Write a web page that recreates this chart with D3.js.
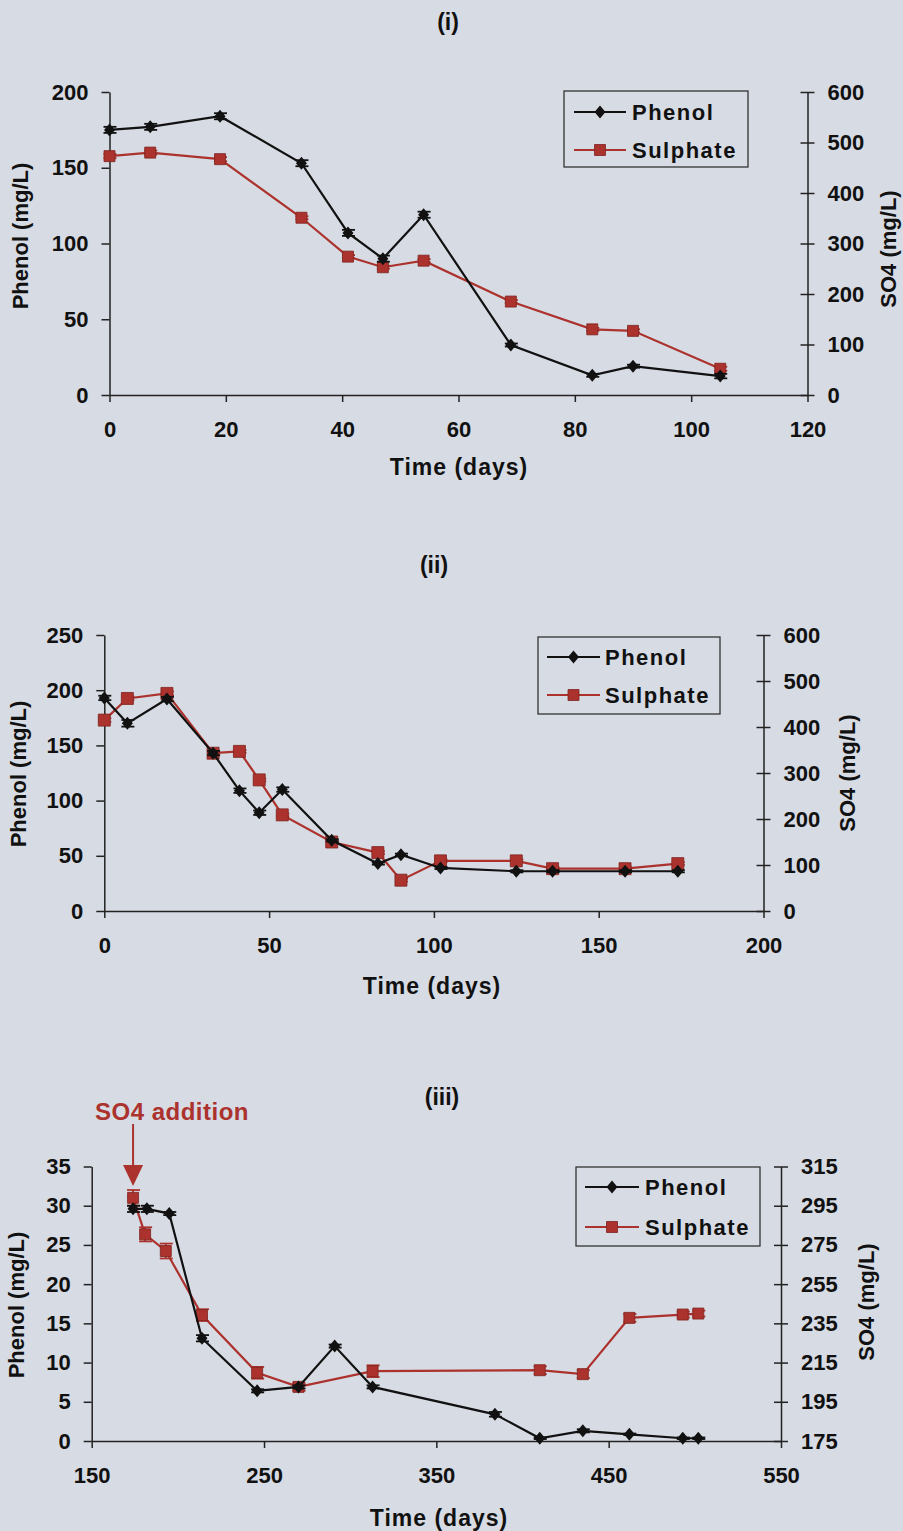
<!DOCTYPE html>
<html>
<head>
<meta charset="utf-8">
<script src="https://cdn.jsdelivr.net/npm/d3@7/dist/d3.min.js"></script>
<style>
body { margin: 0; background: #d7dbe3; }
svg text { font-family: 'Liberation Sans', Arial, sans-serif; font-weight: bold; fill: #111; }
.axis text { font-size: 22px; }
.axis path, .axis line { stroke: #222; stroke-width: 1.5; }
</style>
</head>
<body>
<svg id="chart" width="903" height="1531"></svg>
<script>
// panel (i)
var daysI = [0, 7, 19, 33, 41, 47, 54, 69, 83, 90, 105];
var phenolI = [175, 177, 184, 153, 107, 90, 119, 33, 13, 19, 12.5];
var phenolErrI = [2, 2, 2, 2, 2, 2, 2, 1, 1, 1, 1.5];
var sulphateI = [473, 480, 467, 351, 274, 253, 266, 185, 130, 127, 52];
var sulphateErrI = [4, 4, 4, 3, 3, 3, 3, 3, 3, 3, 4];
var xTicksI = [0, 20, 40, 60, 80, 100, 120];
var phenolTicksI = [0, 50, 100, 150, 200];
var so4TicksI = [0, 100, 200, 300, 400, 500, 600];

// panel (ii)
var daysII = [0, 7, 19, 33, 41, 47, 54, 69, 83, 90, 102, 125, 136, 158, 174];
var phenolII = [193, 170, 192, 143, 109, 89, 110, 64, 43, 51, 39, 36, 36, 36, 36];
var phenolErrII = [2, 3, 2, 2, 2, 2, 2, 1, 1, 1, 1, 1, 1, 1, 1];
var sulphateII = [415, 462, 473, 343, 347, 285, 209, 150, 127, 67, 109, 109, 92, 92, 103];
var sulphateErrII = [4, 4, 4, 3, 3, 3, 3, 3, 3, 3, 3, 3, 3, 3, 3];
var xTicksII = [0, 50, 100, 150, 200];
var phenolTicksII = [0, 50, 100, 150, 200, 250];
var so4TicksII = [0, 100, 200, 300, 400, 500, 600];

// panel (iii)
var phenolDaysIII = [174, 182, 195, 214, 246, 270, 291, 313, 384, 410, 435, 462, 493, 502];
var phenolIII = [29.6, 29.6, 29.0, 13.1, 6.4, 6.9, 12.1, 6.9, 3.4, 0.35, 1.3, 0.85, 0.35, 0.35];
var phenolErrIII = [0.4, 0.4, 0.2, 0.4, 0.2, 0.2, 0.2, 0.2, 0.3, 0.1, 0.2, 0.1, 0.1, 0.1];
var sulphateDaysIII = [174, 181, 193, 214, 246, 270, 313, 410, 435, 462, 493, 502];
var sulphateIII = [299, 280.4, 271.9, 239.2, 209.8, 202.6, 210.6, 211.1, 209.1, 237.8, 239.5, 240];
var sulphateErrIII = [4, 3.6, 3.8, 3, 3, 2, 3, 2, 2, 2, 1.5, 1.5];
var xTicksIII = [150, 250, 350, 450, 550];
var phenolTicksIII = [0, 5, 10, 15, 20, 25, 30, 35];
var so4TicksIII = [175, 195, 215, 235, 255, 275, 295, 315];
var so4AdditionDay = 174;

var phenolColour = '#111111';
var sulphateColour = '#ac322d';

var svg = d3.select('#chart');

function drawSeries(g, x, y, days, vals, errs, colour, marker, msize)
{
	var line = d3.line().x((d, i) => x(days[i])).y(d => y(d));
	g.append('path').attr('d', line(vals)).attr('fill', 'none')
		.attr('stroke', colour).attr('stroke-width', 2.2);

	var bars = g.append('g').attr('stroke', colour).attr('stroke-width', 1.8);
	for (var i = 0; i < vals.length; i++)
	{
		var cx = x(days[i]);
		var y1 = y(vals[i] - errs[i]);
		var y2 = y(vals[i] + errs[i]);
		bars.append('line').attr('x1', cx).attr('x2', cx).attr('y1', y1).attr('y2', y2);
		bars.append('line').attr('x1', cx - 6).attr('x2', cx + 7).attr('y1', y1).attr('y2', y1);
		bars.append('line').attr('x1', cx - 6).attr('x2', cx + 7).attr('y1', y2).attr('y2', y2);
	}

	var pts = g.append('g').selectAll('path').data(vals).enter().append('path')
		.attr('transform', (d, i) => 'translate(' + x(days[i]) + ',' + y(d) + ')');
	drawMarker(pts, colour, marker, msize);
}

function drawMarker(sel, colour, marker, msize)
{
	var h = msize / 2;
	if (marker == 'diamond')
	{
		sel.attr('d', 'M0,' + (-h - 1) + 'L' + h + ',0L0,' + (h + 1) + 'L' + (-h) + ',0Z')
			.attr('fill', colour);
	}
	else
	{
		sel.attr('d', 'M' + (-h) + ',' + (-h) + 'h' + msize + 'v' + msize + 'h' + (-msize) + 'Z')
			.attr('fill', colour).attr('stroke', '#7d2320').attr('stroke-width', 0.8);
	}
}

function drawLegend(g, box)
{
	g.append('rect').attr('x', box.x).attr('y', box.y).attr('width', box.w).attr('height', box.h)
		.attr('fill', 'none').attr('stroke', '#333').attr('stroke-width', 1.3);
	var items = [
		{name: 'Phenol', colour: phenolColour, marker: 'diamond', y: box.row1},
		{name: 'Sulphate', colour: sulphateColour, marker: 'square', y: box.row2}
	];
	items.forEach(function(it) {
		g.append('line').attr('x1', box.lx1).attr('x2', box.lx2).attr('y1', it.y).attr('y2', it.y)
			.attr('stroke', it.colour).attr('stroke-width', 2);
		var m = g.append('path').attr('transform', 'translate(' + (box.lx1 + box.lx2) / 2 + ',' + it.y + ')');
		drawMarker(m, it.colour, it.marker, 11);
		g.append('text').attr('x', box.tx).attr('y', it.y).attr('dy', '0.36em')
			.attr('font-size', 22).attr('letter-spacing', 1.5).text(it.name);
	});
}

function drawPanel(p)
{
	var g = svg.append('g');
	var x = d3.scaleLinear().domain(p.xDomain).range([p.left, p.right]);
	var yL = d3.scaleLinear().domain(p.yLDomain).range([p.bottom, p.top]);
	var yR = d3.scaleLinear().domain(p.yRDomain).range([p.bottom, p.top]);

	g.append('g').attr('class', 'axis').attr('transform', 'translate(0,' + p.bottom + ')')
		.call(d3.axisBottom(x).tickValues(p.xTicks).tickSize(7).tickSizeOuter(0).tickPadding(19));
	g.append('g').attr('class', 'axis').attr('transform', 'translate(' + p.left + ',0)')
		.call(d3.axisLeft(yL).tickValues(p.yLTicks).tickSize(8).tickSizeOuter(0).tickPadding(13));
	var right = g.append('g').attr('class', 'axis').attr('transform', 'translate(' + p.right + ',0)')
		.call(d3.axisRight(yR).tickValues(p.yRTicks).tickSize(7).tickSizeOuter(0).tickPadding(13));
	right.selectAll('.tick line').attr('x1', -7);

	drawSeries(g, x, yR, p.sulphateDays, p.sulphate, p.sulphateErr, sulphateColour, 'square', p.squareSize);
	drawSeries(g, x, yL, p.phenolDays, p.phenol, p.phenolErr, phenolColour, 'diamond', 11);

	g.append('text').attr('x', p.titleX).attr('y', p.titleY).attr('text-anchor', 'middle')
		.attr('dy', '0.35em').attr('font-size', 23).text(p.title);
	g.append('text').attr('x', p.xLabelX).attr('y', p.xLabelY).attr('text-anchor', 'middle')
		.attr('dy', '0.35em').attr('font-size', 23).attr('letter-spacing', 1).text('Time (days)');
	g.append('text').attr('transform', 'translate(' + p.leftLabelX + ',' + p.leftLabelY + ') rotate(-90)')
		.attr('text-anchor', 'middle').attr('dy', '0.35em').attr('font-size', 22).text('Phenol (mg/L)');
	g.append('text').attr('transform', 'translate(' + p.rightLabelX + ',' + p.rightLabelY + ') rotate(-90)')
		.attr('text-anchor', 'middle').attr('dy', '0.35em').attr('font-size', 22).text('SO4 (mg/L)');

	drawLegend(g, p.legend);
	return x;
}

drawPanel({
	xDomain: [0, 120], yLDomain: [0, 200], yRDomain: [0, 600],
	left: 109.5, right: 807.5, top: 92, bottom: 395,
	xTicks: xTicksI, yLTicks: phenolTicksI, yRTicks: so4TicksI,
	phenolDays: daysI, phenol: phenolI, phenolErr: phenolErrI,
	sulphateDays: daysI, sulphate: sulphateI, sulphateErr: sulphateErrI, squareSize: 11,
	title: '(i)', titleX: 448, titleY: 22,
	xLabelX: 459, xLabelY: 467, leftLabelX: 20, leftLabelY: 236, rightLabelX: 888, rightLabelY: 249,
	legend: {x: 564, y: 91, w: 184, h: 76, row1: 112, row2: 150, lx1: 574, lx2: 626, tx: 632}
});

drawPanel({
	xDomain: [0, 200], yLDomain: [0, 250], yRDomain: [0, 600],
	left: 104.3, right: 763.5, top: 635, bottom: 911,
	xTicks: xTicksII, yLTicks: phenolTicksII, yRTicks: so4TicksII,
	phenolDays: daysII, phenol: phenolII, phenolErr: phenolErrII,
	sulphateDays: daysII, sulphate: sulphateII, sulphateErr: sulphateErrII, squareSize: 12,
	title: '(ii)', titleX: 434, titleY: 565,
	xLabelX: 432, xLabelY: 986, leftLabelX: 18, leftLabelY: 774, rightLabelX: 847, rightLabelY: 773,
	legend: {x: 538, y: 637, w: 182, h: 77, row1: 657, row2: 695, lx1: 547, lx2: 600, tx: 605}
});

var x3 = drawPanel({
	xDomain: [150, 550], yLDomain: [0, 35], yRDomain: [175, 315],
	left: 91.7, right: 781, top: 1166.5, bottom: 1441,
	xTicks: xTicksIII, yLTicks: phenolTicksIII, yRTicks: so4TicksIII,
	phenolDays: phenolDaysIII, phenol: phenolIII, phenolErr: phenolErrIII,
	sulphateDays: sulphateDaysIII, sulphate: sulphateIII, sulphateErr: sulphateErrIII, squareSize: 11,
	title: '(iii)', titleX: 442, titleY: 1097,
	xLabelX: 439, xLabelY: 1518, leftLabelX: 16, leftLabelY: 1305, rightLabelX: 866, rightLabelY: 1302,
	legend: {x: 576, y: 1167, w: 184, h: 79, row1: 1187, row2: 1227, lx1: 585, lx2: 639, tx: 645}
});

// SO4 addition arrow
var ax = x3(so4AdditionDay);
svg.append('text').attr('x', 95).attr('y', 1120).attr('font-size', 24).attr('letter-spacing', 0.5)
	.style('fill', sulphateColour).text('SO4 addition');
svg.append('line').attr('x1', ax).attr('x2', ax).attr('y1', 1124).attr('y2', 1167)
	.attr('stroke', sulphateColour).attr('stroke-width', 2);
svg.append('path').attr('d', 'M' + (ax - 10) + ',1165L' + (ax + 10) + ',1165L' + ax + ',1186Z')
	.attr('fill', sulphateColour);
</script>
</body>
</html>
